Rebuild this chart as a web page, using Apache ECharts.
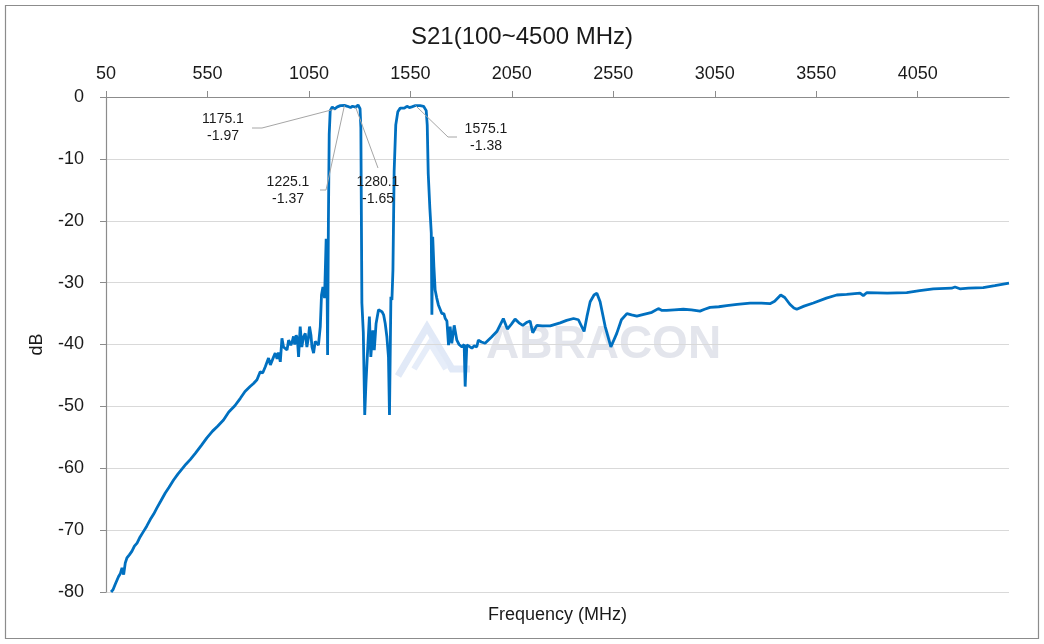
<!DOCTYPE html>
<html>
<head>
<meta charset="utf-8">
<title>S21</title>
<script src="https://cdn.jsdelivr.net/npm/echarts@6.0.0/dist/echarts.min.js"></script>
<style>
  html, body { margin: 0; padding: 0; background: #fff; }
  #main { width: 1044px; height: 644px; }
</style>
</head>
<body>
<div id="main"></div>
<script>
var freq = [75, 80, 85, 96, 104, 112, 121, 129, 137, 145, 153, 165, 178, 190, 203, 218, 235, 250, 268, 285,
  301, 320, 342, 360, 383, 405, 425, 445, 465, 490, 520, 547, 575, 600, 629, 655, 685, 712, 735, 760,
  777, 794, 810, 822, 835, 851, 860, 868, 876, 884, 893, 900, 909, 917, 925, 933, 942, 950, 961, 967,
  974, 980, 987, 993, 999, 1007, 1015, 1023, 1032, 1040, 1047, 1053, 1060, 1065, 1073, 1081, 1089, 1097, 1106, 1112,
  1119, 1127, 1135, 1139, 1142, 1146, 1150, 1155, 1165, 1175.1, 1190, 1205, 1225.1, 1240, 1255, 1265, 1280.1, 1292, 1302, 1306,
  1311, 1318, 1325, 1331, 1336, 1348, 1355, 1365, 1372, 1381, 1393, 1400, 1410, 1418, 1426, 1434, 1442, 1447, 1454, 1459,
  1464, 1470, 1478, 1488, 1500, 1508, 1520, 1533, 1545, 1557, 1575.1, 1582, 1598, 1615, 1628, 1633, 1638, 1646, 1653, 1656,
  1660, 1666, 1672, 1680, 1688, 1697, 1705, 1715, 1722, 1730, 1738, 1746, 1754, 1766, 1779, 1790, 1804, 1815, 1820, 1828,
  1840, 1853, 1865, 1877, 1885, 1900, 1918, 1950, 1976, 2008, 2028, 2048, 2066, 2085, 2104, 2125, 2140, 2153, 2173, 2200,
  2239, 2288, 2320, 2354, 2378, 2406, 2420, 2436, 2455, 2469, 2485, 2510, 2538, 2567, 2590, 2617, 2640, 2666, 2690, 2715,
  2740, 2772, 2790, 2813, 2850, 2895, 2935, 2977, 3000, 3027, 3070, 3109, 3160, 3224, 3280, 3322, 3345, 3375, 3395, 3420,
  3440, 3454, 3490, 3536, 3600, 3651, 3700, 3766, 3782, 3800, 3900, 3996, 4060, 4127, 4217, 4234, 4258, 4300, 4373, 4430,
  4500];
var s21 = [-80, -79.8, -79.6, -78.7, -78.9, -77.5, -77.0, -76.1, -77.2, -75.3, -74.5, -74.0, -73.4, -72.6, -72.1, -71.1, -70.2, -69.4, -68.3, -67.4,
  -66.4, -65.3, -64.0, -63.1, -61.9, -60.9, -60.1, -59.3, -58.6, -57.6, -56.3, -55.1, -54.0, -53.2, -52.2, -50.9, -49.9, -48.7, -47.6, -46.8,
  -46.3, -45.7, -44.4, -44.6, -43.6, -42.2, -43.3, -43.0, -42.0, -41.4, -42.3, -41.3, -42.8, -39.0, -40.4, -40.6, -40.9, -39.3, -40.1, -39.6,
  -38.7, -40.0, -38.5, -39.0, -42.0, -37.1, -40.4, -38.8, -38.2, -40.4, -39.0, -37.1, -38.5, -40.4, -41.4, -39.5, -39.8, -40.1, -37.1, -32.0,
  -30.7, -32.5, -22.9, -28.0, -41.7, -20.0, -6.0, -2.2, -1.6, -1.97, -1.6, -1.4, -1.37, -1.5, -1.7, -1.5, -1.65, -1.3, -1.9, -5.0,
  -33.3, -38.0, -51.4, -46.3, -43.0, -35.5, -42.0, -37.7, -40.9, -36.6, -34.4, -34.3, -34.7, -35.2, -36.6, -38.7, -42.0, -51.4, -32.3, -32.8,
  -28.0, -12.0, -4.5, -2.4, -1.8, -1.6, -1.8, -1.5, -1.7, -1.6, -1.38, -1.23, -1.4, -1.5, -2.2, -4.5, -12.4, -18.0, -22.0, -35.2,
  -22.6, -27.5, -31.2, -32.5, -33.6, -33.9, -35.0, -35.0, -35.8, -36.2, -40.1, -37.1, -39.8, -36.9, -39.3, -40.0, -40.4, -40.0, -46.8, -40.1,
  -40.3, -40.6, -40.2, -40.4, -39.3, -39.6, -39.8, -38.8, -37.9, -35.8, -37.5, -36.7, -35.9, -36.5, -36.9, -36.4, -36.2, -38.1, -36.9, -37.0,
  -37.0, -36.5, -36.1, -35.8, -36.0, -37.9, -35.5, -33.1, -32.0, -31.7, -33.1, -37.1, -40.4, -38.2, -36.0, -35.0, -35.2, -35.4, -35.2, -35.0,
  -34.8, -34.2, -34.5, -34.5, -34.4, -34.3, -34.4, -34.6, -34.3, -34.0, -33.9, -33.7, -33.5, -33.3, -33.3, -33.4, -33.0, -32.0, -32.4, -33.5,
  -34.1, -34.3, -33.8, -33.3, -32.5, -32.0, -31.9, -31.7, -32.1, -31.6, -31.7, -31.6, -31.3, -31.0, -30.9, -30.7, -31.0, -30.9, -30.8, -30.5,
  -30.1];

// annotated points
var markFreq = [1175.1, 1225.1, 1280.1, 1575.1];
var markDb = [-1.97, -1.37, -1.65, -1.38];

var xTicks = [50, 550, 1050, 1550, 2050, 2550, 3050, 3550, 4050];

// annotation label centres (px) and leader-line elbows relative to them
var labelPos = [[223, 128], [288, 191], [378, 191], [486, 138]];
var leader = [
  [[39, 0], [29, 0]],
  [[38, -1], [32, -1]],
  [[0, -23]],
  [[-38, -1], [-29, -1]]
];

var font = 'Liberation Sans, Arial, sans-serif';
var chart = echarts.init(document.getElementById('main'), null, { renderer: 'canvas' });

var option = {
  animation: false,
  backgroundColor: '#fff',
  title: {
    text: 'S21(100~4500 MHz)',
    left: 'center',
    top: 20,
    textStyle: { fontFamily: font, fontSize: 24, fontWeight: 'normal', color: '#1a1a1a' }
  },
  grid: { left: 106, right: 35, top: 97, bottom: 52 },
  xAxis: {
    type: 'value',
    position: 'top',
    min: 50,
    max: 4500,
    interval: 500,
    name: 'Frequency (MHz)',
    nameLocation: 'middle',
    nameGap: -527,
    nameTextStyle: { fontFamily: font, fontSize: 18, color: '#1a1a1a' },
    axisLine: { onZero: false, lineStyle: { color: '#8c8c8c', width: 1.2 } },
    axisTick: { show: true, length: 6, customValues: xTicks, lineStyle: { color: '#8c8c8c' } },
    axisLabel: {
      customValues: xTicks, margin: 14, fontFamily: font, fontSize: 18, color: '#1a1a1a',
      formatter: function (v) { return String(v); }
    },
    splitLine: { show: false }
  },
  yAxis: {
    type: 'value',
    min: -80,
    max: 0,
    interval: 10,
    name: 'dB',
    nameLocation: 'middle',
    nameGap: 60,
    nameTextStyle: { fontFamily: font, fontSize: 18, color: '#1a1a1a' },
    axisLine: { show: true, lineStyle: { color: '#8c8c8c', width: 1.2 } },
    axisTick: { show: true, length: 6, lineStyle: { color: '#8c8c8c' } },
    axisLabel: { margin: 22, fontFamily: font, fontSize: 18, color: '#1a1a1a' },
    splitLine: { show: true, lineStyle: { color: '#d9d9d9', width: 1.2 } }
  },
  graphic: [
    {
      type: 'rect', z: 0, silent: true,
      shape: { x: 5.5, y: 5.5, width: 1033, height: 633 },
      style: { fill: null, stroke: '#8c8c8c', lineWidth: 1.2 }
    },
    {
      type: 'group', z: 0, silent: true,
      children: [
        { type: 'polyline', shape: { points: [[398, 376], [427, 327], [452, 369], [470, 369]] },
          style: { stroke: '#e1e9f7', lineWidth: 7, fill: null } },
        { type: 'polyline', shape: { points: [[414, 369], [430, 343], [446, 369]] },
          style: { stroke: '#e6edf9', lineWidth: 6, fill: null } }
      ]
    },
    {
      type: 'text', z: 0, silent: true,
      left: 486, top: 322,
      style: { text: 'ABRACON', font: 'bold 46px ' + font, fill: '#e3e5ec' }
    }
  ],
  series: [
    {
      type: 'line',
      z: 3,
      data: freq.map(function (f, i) { return [f, s21[i]]; }),
      showSymbol: false,
      symbol: 'none',
      lineStyle: { color: '#0070c0', width: 2.8 },
      itemStyle: { color: '#0070c0' }
    },
    {
      type: 'custom',
      z: 4,
      clip: false,
      data: markFreq.map(function (f, i) { return [f, markDb[i]]; }),
      renderItem: function (params, api) {
        var i = params.dataIndex;
        var pt = api.coord([api.value(0), api.value(1)]);
        var lp = labelPos[i];
        var pts = [pt].concat(leader[i].map(function (d) { return [lp[0] + d[0], lp[1] + d[1]]; }));
        return {
          type: 'group',
          children: [
            { type: 'polyline', shape: { points: pts }, style: { stroke: '#a6a6a6', lineWidth: 1, fill: null } },
            {
              type: 'text', x: lp[0], y: lp[1],
              style: {
                text: markFreq[i].toFixed(1) + '\n' + markDb[i].toFixed(2),
                align: 'center', verticalAlign: 'middle',
                font: '14px ' + font, lineHeight: 17, fill: '#1a1a1a'
              }
            }
          ]
        };
      }
    }
  ]
};

chart.setOption(option);
</script>
</body>
</html>
